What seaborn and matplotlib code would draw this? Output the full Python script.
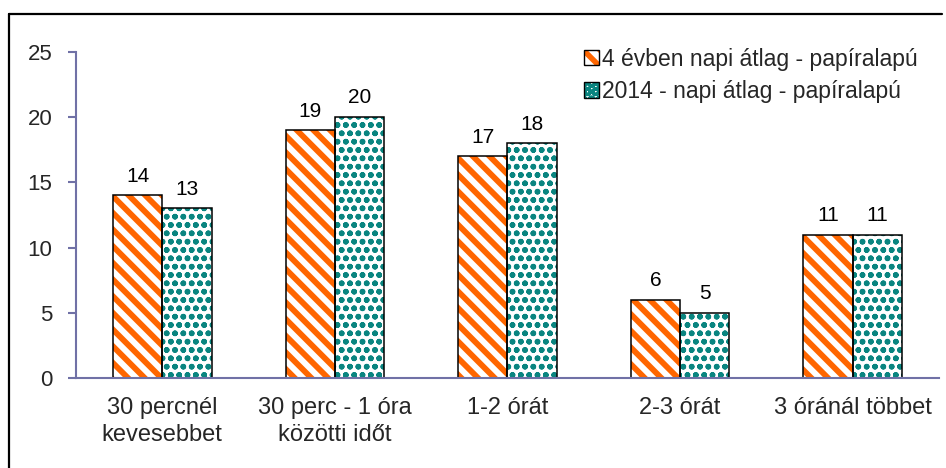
import matplotlib
matplotlib.use("Agg")
import matplotlib.pyplot as plt
import seaborn as sns
import pandas as pd
from matplotlib.patches import Patch, Rectangle
from matplotlib.lines import Line2D
from matplotlib.legend_handler import HandlerTuple

# ---- data ----
categories = ["30 percnél\nkevesebbet", "30 perc - 1 óra\nközötti időt",
              "1-2 órát", "2-3 órát", "3 óránál többet"]
series_names = ["4 évben napi átlag - papíralapú", "2014 - napi átlag - papíralapú"]
values_4ev = [14, 19, 17, 6, 11]
values_2014 = [13, 20, 18, 5, 11]
y_ticks = [0, 5, 10, 15, 20, 25]

sns.set_theme(style="white")
plt.rcParams["font.family"] = ["Liberation Sans", "DejaVu Sans"]
plt.rcParams["hatch.linewidth"] = 4.0

ORANGE = "#ff6600"
TEAL = "#0a8580"
SPINE = "#7071a6"
hatch_colors = [ORANGE, TEAL]
hatches = ["\\\\", "oo"]
hatch_lws = [4.2, 1.7]

df = pd.DataFrame({
    "cat": categories * 2,
    "series": [series_names[0]] * len(categories) + [series_names[1]] * len(categories),
    "value": values_4ev + values_2014,
})

fig = plt.figure(figsize=(9.46, 4.68), dpi=100)
ax = fig.add_axes([0.0803, 0.1923, 0.9123, 0.6966])

sns.barplot(data=df, x="cat", y="value", hue="series", order=categories,
            hue_order=series_names, palette=["white", "white"], width=0.572,
            gap=0, errorbar=None, legend=False, ax=ax)

for i, cont in enumerate(ax.containers):
    for bar in cont:
        bar.set_facecolor("white")
        bar.set_edgecolor(hatch_colors[i])
        bar.set_linewidth(0)
        bar.set_hatch(hatches[i])
        if hasattr(bar, "set_hatch_linewidth"):
            bar.set_hatch_linewidth(hatch_lws[i])
        outline = Rectangle((bar.get_x(), bar.get_y()), bar.get_width(), bar.get_height(),
                            fill=False, edgecolor="black", linewidth=1.1,
                            zorder=bar.get_zorder() + 0.1)
        ax.add_patch(outline)
    ax.bar_label(cont, labels=[str(int(v)) for v in cont.datavalues],
                 padding=7, fontsize=15, color="black")

ax.set_xlim(-0.5, len(categories) - 0.5)
ax.set_ylim(0, 25)
ax.set_yticks(y_ticks)
ax.set_yticklabels([str(t) for t in y_ticks], fontsize=16)
ax.set_xlabel("")
ax.set_ylabel("")
ax.set_xticks(range(len(categories)))
ax.set_xticklabels(categories, fontsize=17, linespacing=1.25)
ax.set_xticks([i - 0.5 for i in range(len(categories) + 1)], minor=True)
ax.tick_params(axis="x", which="major", length=0, pad=14)
ax.tick_params(axis="x", which="minor", length=6, width=1.5, color=SPINE, direction="out")
ax.tick_params(axis="y", which="major", length=6, width=1.5, color=SPINE,
               direction="out", pad=11, left=True)

for s in ["top", "right"]:
    ax.spines[s].set_visible(False)
for s in ["left", "bottom"]:
    ax.spines[s].set_color(SPINE)
    ax.spines[s].set_linewidth(1.5)

handles = []
for i in range(2):
    fill = Patch(facecolor="white", edgecolor=hatch_colors[i], hatch=hatches[i], linewidth=0)
    edge = Patch(facecolor="none", edgecolor="black", linewidth=1.0)
    handles.append((fill, edge))
leg = fig.legend(handles, series_names, loc="upper left",
                 bbox_to_anchor=(0.617, 0.898), frameon=False, fontsize=16.5,
                 handlelength=0.65, handleheight=0.65, handletextpad=0.15,
                 labelspacing=0.4, borderpad=0, borderaxespad=0,
                 handler_map={tuple: HandlerTuple(ndivide=1, pad=0)})

# figure frame (top and left edges visible)
fig.add_artist(Line2D([9 / 946, 942 / 946], [1 - 14 / 468, 1 - 14 / 468],
                      transform=fig.transFigure, color="black", linewidth=1.6))
fig.add_artist(Line2D([9 / 946, 9 / 946], [0, 1 - 14 / 468],
                      transform=fig.transFigure, color="black", linewidth=1.6))

fig.savefig("out.png", dpi=100)
